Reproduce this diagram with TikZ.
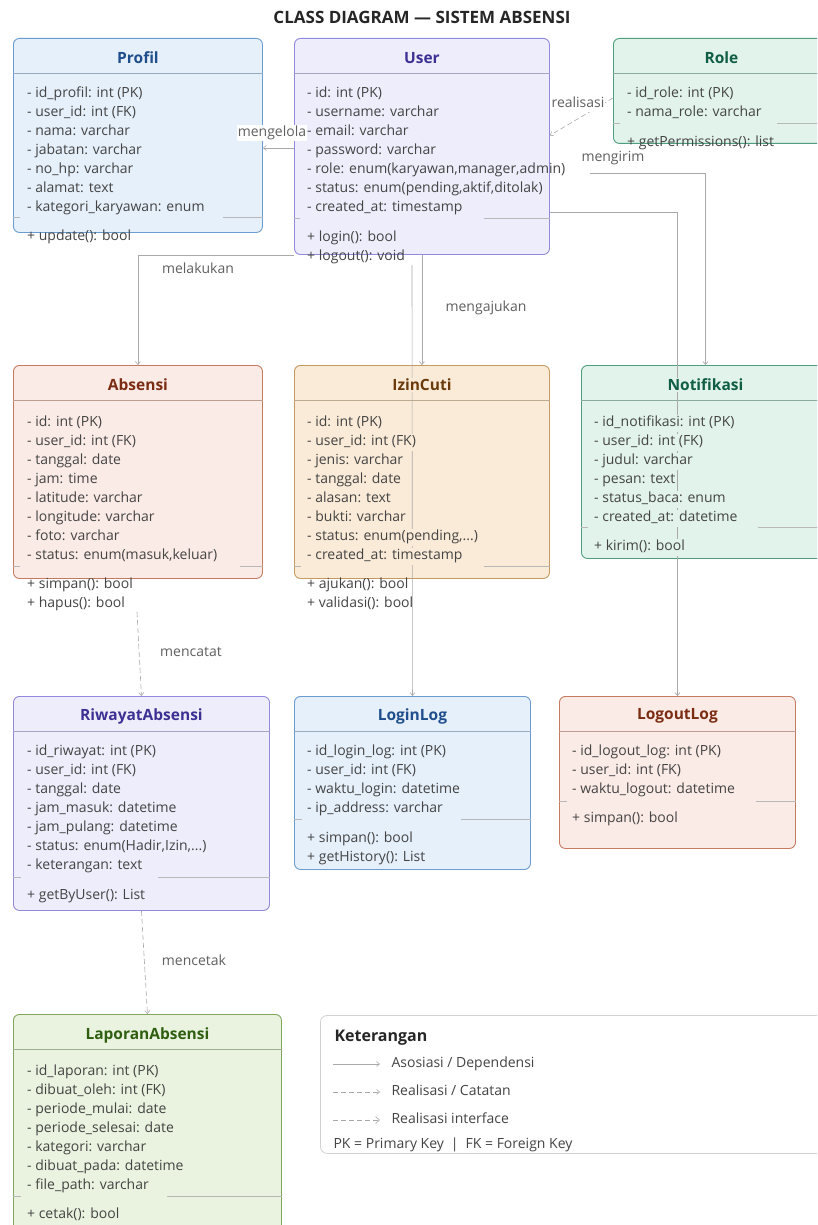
\documentclass[tikz,border=0pt]{standalone}
\usepackage{fontspec}
\setmainfont{Open Sans}
\usetikzlibrary{arrows.meta,positioning}

\definecolor{bluefill}{HTML}{E6F0FA}
\definecolor{blueline}{HTML}{6A9BD1}
\definecolor{bluetext}{HTML}{1F4E8C}
\definecolor{violetfill}{HTML}{EEEDFB}
\definecolor{violetline}{HTML}{9288DC}
\definecolor{violettext}{HTML}{3C3193}
\definecolor{mintfill}{HTML}{E2F3EC}
\definecolor{mintline}{HTML}{4F9E7E}
\definecolor{minttext}{HTML}{0F5E45}
\definecolor{salmonfill}{HTML}{FAEBE6}
\definecolor{salmonline}{HTML}{C57B60}
\definecolor{salmontext}{HTML}{7B2D14}
\definecolor{peachfill}{HTML}{FAEBD8}
\definecolor{peachline}{HTML}{C49A62}
\definecolor{peachtext}{HTML}{6B3A0B}
\definecolor{greenfill}{HTML}{EAF3DF}
\definecolor{greenline}{HTML}{7FA75E}
\definecolor{greentext}{HTML}{2E5E10}
\definecolor{inktext}{HTML}{444444}
\definecolor{conngray}{HTML}{A9A9A9}
\definecolor{rulegray}{HTML}{B8B8B8}
\definecolor{legendgray}{HTML}{D2D2D2}

\tikzset{
  classbox/.style={rectangle, rounded corners=6pt, line width=0.9pt, anchor=north west, inner sep=0pt},
  seprule/.style={line width=0.6pt, draw=rulegray},
  classtitle/.style={font=\fontsize{15.5}{18}\selectfont\bfseries, inner sep=1pt},
  attrrow/.style={anchor=west, font=\fontsize{14}{16}\selectfont, text=inktext, inner xsep=1pt, inner ysep=1.5pt,
                  text height=10.5pt, text depth=3.5pt},
  assoc/.style={draw=conngray, line width=0.6pt, -{Straight Barb[length=3pt,width=5pt]}},
  realise/.style={assoc, dash pattern=on 5pt off 3pt},
  rellabel/.style={font=\fontsize{14}{16}\selectfont, text=inktext!85, fill=white, inner sep=1pt,
                   text height=10.5pt, text depth=3.5pt},
  legendtext/.style={anchor=west, font=\fontsize{14}{16}\selectfont, text=inktext, text height=10.5pt, text depth=3.5pt},
}

% box with header rule: name, x, y, width, height, colour prefix
\newcommand{\classbox}[6]{%
  \node[classbox, fill=#6fill, draw=#6line, minimum width=#4pt, minimum height=#5pt] (#1) at (#2,#3) {};
  \draw[line width=0.6pt, draw=#6line!45!rulegray] ([yshift=-35pt]#1.north west) -- ([yshift=-35pt]#1.north east);
}
% rows of text: name, x, first y, options, rows
\newcommand{\classrows}[5]{%
  \foreach \rowtext [count=\k] in {#5}
    \node[attrrow,#4] (#1-r\k) at (#2,#3+19*\k-19) {\rowtext};
}
% broken separator: box, y, end of left stub, start of right part
\newcommand{\sepline}[4]{%
  \draw[seprule] (#1.west |- 0,#2) -- (#3,#2) (#4,#2) -- (#1.east |- 0,#2);
}
\newcommand{\etc}{.{}.{}.}

\begin{document}
\begin{tikzpicture}[x=1pt, y=-1pt]
  \useasboundingbox (0,0) rectangle (817,1225);
  \clip (0,0) rectangle (817,1225);
  \fill[white] (0,0) rectangle (817,1225);

  \node[font=\fontsize{17}{20}\selectfont\bfseries, text=black!85] (title) at (422,17) {CLASS DIAGRAM — SISTEM ABSENSI};

  % class boxes
  \classbox{profil}{13}{38}{249}{194}{blue}
  \classbox{user}{294}{38}{255}{216}{violet}
  \classbox{role}{613}{38}{216}{105}{mint}
  \classbox{absensi}{13}{365}{249}{213}{salmon}
  \classbox{izincuti}{294}{365}{255}{213}{peach}
  \classbox{notifikasi}{581}{365}{248}{193}{mint}
  \classbox{riwayat}{13}{696}{256}{214}{violet}
  \classbox{loginlog}{294}{696}{236}{173}{blue}
  \classbox{logoutlog}{559}{696}{236}{152}{salmon}
  \classbox{laporan}{13}{1014}{268}{230}{green}

  \sepline{profil}{217}{20}{223}
  \sepline{user}{218}{300}{484}
  \sepline{role}{123}{620}{777}
  \sepline{absensi}{566}{20}{240}
  \sepline{izincuti}{566}{301}{484}
  \sepline{notifikasi}{527}{588}{758}
  \sepline{riwayat}{877}{21}{158}
  \sepline{loginlog}{819}{302}{461}
  \sepline{logoutlog}{801}{567}{756}
  \sepline{laporan}{1196}{21}{167}

  % relations
  \coordinate (mengirim-start) at (590,173);
  \coordinate (loginlog-start) at (412,265);
  \coordinate (mencatat-start) at (137,612);

  \draw[assoc] (user.west |- 0,148) -- (profil.east |- 0,148);
  \draw[realise] ([yshift=-7pt]role.west) -- ([yshift=11pt]user.east);
  \draw[assoc] (mengirim-start) -| (notifikasi.north);
  \draw[assoc] (user.east |- 0,212) -| (logoutlog.north);
  \draw[assoc] (user.south west) -| (absensi.north);
  \draw[assoc] (user.south) -- (izincuti.north);
  \draw[assoc] (loginlog-start) -- (loginlog.north);
  \draw[realise] (mencatat-start) -- (riwayat.north);
  \draw[realise] (riwayat.south) -- (laporan.north);

  % Profil
  \node[classtitle, text=bluetext, fill=bluefill] (profil-t) at ([yshift=-20pt]profil.north) {Profil};
  \classrows{profil}{26}{94}{fill=bluefill}{- id\_profil: int (PK), - user\_id: int (FK), - nama: varchar, - jabatan: varchar, - no\_hp: varchar, - alamat: text, - kategori\_karyawan: enum}
  \classrows{profil-m}{26}{237}{}{+ update(): bool}

  % User
  \node[classtitle, text=violettext, fill=violetfill] (user-t) at ([yshift=-20pt]user.north) {User};
  \classrows{user}{306}{94}{}{- id: int (PK), - username: varchar, - email: varchar, - password: varchar, {- role: enum(karyawan,manager,admin)}, {- status: enum(pending,aktif,ditolak)}, - created\_at: timestamp}
  \classrows{user-m}{306}{238}{}{+ login(): bool, + logout(): void}

  % Role
  \node[classtitle, text=minttext, fill=mintfill] (role-t) at ([yshift=-20pt]role.north) {Role};
  \classrows{role}{626}{94}{fill=mintfill}{- id\_role: int (PK), - nama\_role: varchar}
  \classrows{role-m}{626}{143}{}{+ getPermissions(): list}

  % Absensi
  \node[classtitle, text=salmontext, fill=salmonfill] (absensi-t) at ([yshift=-20pt]absensi.north) {Absensi};
  \classrows{absensi}{26}{423}{fill=salmonfill}{- id: int (PK), - user\_id: int (FK), - tanggal: date, - jam: time, - latitude: varchar, - longitude: varchar, - foto: varchar, {- status: enum(masuk,keluar)}}
  \classrows{absensi-m}{26}{585}{}{+ simpan(): bool, + hapus(): bool}

  % IzinCuti
  \node[classtitle, text=peachtext, fill=peachfill] (izincuti-t) at ([yshift=-20pt]izincuti.north) {IzinCuti};
  \classrows{izincuti}{306}{423}{fill=peachfill}{- id: int (PK), - user\_id: int (FK), - jenis: varchar, - tanggal: date, - alasan: text, - bukti: varchar, {- status: enum(pending,\etc)}, - created\_at: timestamp}
  \classrows{izincuti-m}{306}{585}{}{+ ajukan(): bool, + validasi(): bool}

  % Notifikasi
  \node[classtitle, text=minttext, fill=mintfill] (notifikasi-t) at ([yshift=-20pt]notifikasi.north) {Notifikasi};
  \classrows{notifikasi}{593}{423}{fill=mintfill}{- id\_notifikasi: int (PK), - user\_id: int (FK), - judul: varchar, - pesan: text, - status\_baca: enum, - created\_at: datetime}
  \classrows{notifikasi-m}{593}{547}{fill=mintfill}{+ kirim(): bool}

  % RiwayatAbsensi
  \node[classtitle, text=violettext, fill=violetfill] (riwayat-t) at ([yshift=-20pt]riwayat.north) {RiwayatAbsensi};
  \classrows{riwayat}{26}{752}{fill=violetfill}{- id\_riwayat: int (PK), - user\_id: int (FK), - tanggal: date, - jam\_masuk: datetime, - jam\_pulang: datetime, {- status: enum(Hadir,Izin,\etc)}, - keterangan: text}
  \classrows{riwayat-m}{26}{896}{fill=violetfill}{+ getByUser(): List}

  % LoginLog
  \node[classtitle, text=bluetext, fill=bluefill] (loginlog-t) at ([yshift=-20pt]loginlog.north) {LoginLog};
  \classrows{loginlog}{306}{752}{fill=bluefill}{- id\_login\_log: int (PK), - user\_id: int (FK), - waktu\_login: datetime, - ip\_address: varchar}
  \classrows{loginlog-m}{306}{839}{fill=bluefill}{+ simpan(): bool, + getHistory(): List}

  % LogoutLog
  \node[classtitle, text=salmontext, fill=salmonfill] (logoutlog-t) at ([yshift=-20pt]logoutlog.north) {LogoutLog};
  \classrows{logoutlog}{571}{752}{fill=salmonfill}{- id\_logout\_log: int (PK), - user\_id: int (FK), - waktu\_logout: datetime}
  \classrows{logoutlog-m}{571}{819}{fill=salmonfill}{+ simpan(): bool}

  % LaporanAbsensi
  \node[classtitle, text=greentext, fill=greenfill] (laporan-t) at ([yshift=-21pt]laporan.north) {LaporanAbsensi};
  \classrows{laporan}{26}{1072}{fill=greenfill}{- id\_laporan: int (PK), - dibuat\_oleh: int (FK), - periode\_mulai: date, - periode\_selesai: date, - kategori: varchar, - dibuat\_pada: datetime, - file\_path: varchar}
  \classrows{laporan-m}{26}{1215}{fill=greenfill}{+ cetak(): bool}

  % relation labels
  \node[rellabel] (lbl-mengelola) at (272,133) {mengelola};
  \node[rellabel] (lbl-realisasi) at (578,104) {realisasi};
  \node[rellabel] (lbl-mengirim) at (613,158) {mengirim};
  \node[rellabel] (lbl-melakukan) at (198,270) {melakukan};
  \node[rellabel] (lbl-mengajukan) at (486,308) {mengajukan};
  \node[rellabel] (lbl-mencatat) at (191,653) {mencatat};
  \node[rellabel] (lbl-mencetak) at (194,962) {mencetak};

  % legend
  \node[draw=legendgray, fill=white, rounded corners=7pt, line width=0.8pt, anchor=north west,
        minimum width=530pt, minimum height=138pt, inner sep=0pt] (legend) at (320,1015) {};
  \node[anchor=west, font=\fontsize{16}{19}\selectfont\bfseries, text=black!85] (legend-t) at (331,1038) {Keterangan};
  \coordinate (lg-a1) at (333,1064); \coordinate (lg-b1) at (380,1064);
  \coordinate (lg-a2) at (333,1092); \coordinate (lg-b2) at (380,1092);
  \coordinate (lg-a3) at (333,1120); \coordinate (lg-b3) at (380,1120);
  \draw[assoc] (lg-a1) -- (lg-b1);
  \draw[realise] (lg-a2) -- (lg-b2);
  \draw[realise, -{Straight Barb[length=4pt,width=7pt]}] (lg-a3) -- (lg-b3);
  \node[legendtext] (lg-t1) at (388,1064) {Asosiasi / Dependensi};
  \node[legendtext] (lg-t2) at (388,1092) {Realisasi / Catatan};
  \node[legendtext] (lg-t3) at (388,1120) {Realisasi interface};
  \node[legendtext] (lg-t4) at (330,1145) {PK = Primary Key\enspace|\enspace FK = Foreign Key};
\end{tikzpicture}
\end{document}
